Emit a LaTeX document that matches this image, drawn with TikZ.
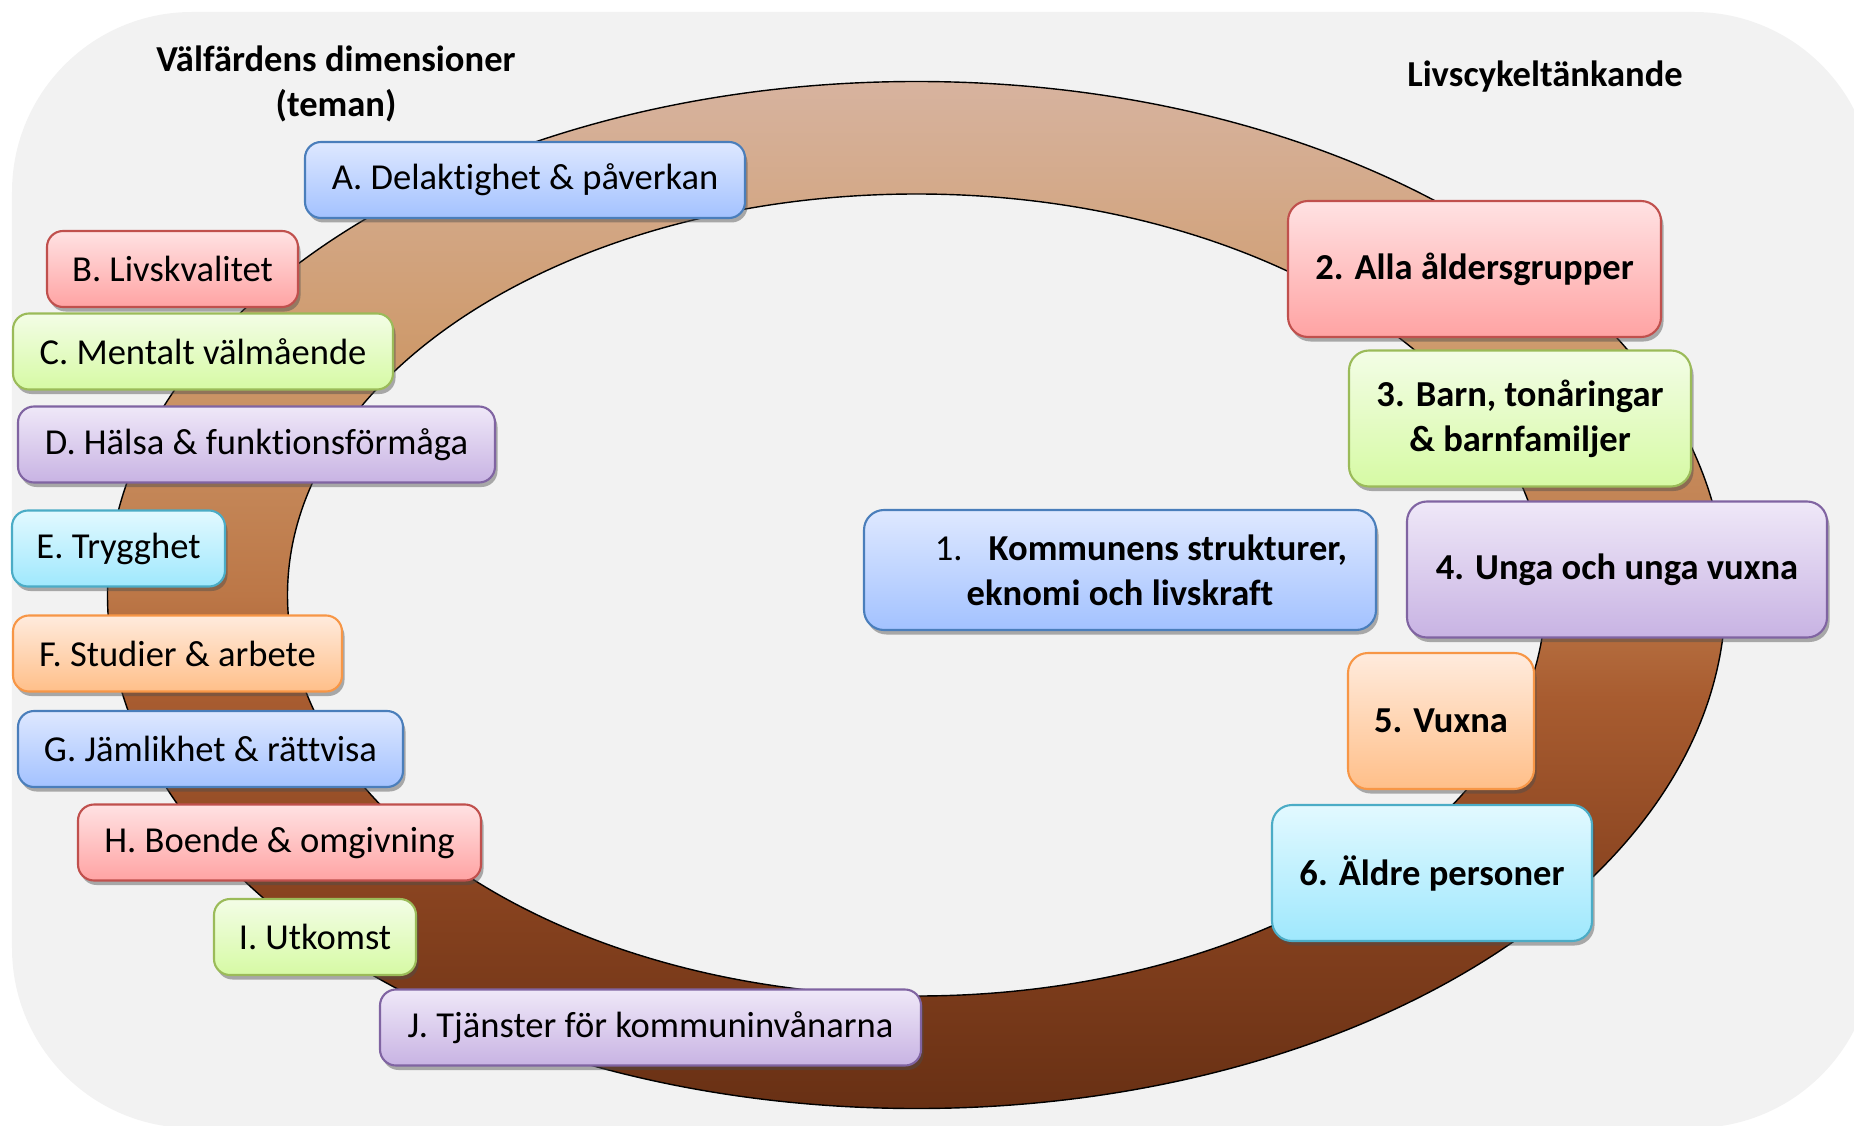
\documentclass[tikz,border=0pt]{standalone}
\usepackage{fontspec}
\setmainfont{Carlito}[Ligatures=NoCommon]
\usepackage{xcolor}
\usepackage{tikz}
\usetikzlibrary{shapes,positioning,shadows}

\definecolor{bggray}{HTML}{F2F2F2}
\definecolor{bluline}{HTML}{4A7EBB}
\definecolor{blutop}{HTML}{DEE8FF}
\definecolor{blubot}{HTML}{A3C2FF}
\definecolor{redline}{HTML}{C0504D}
\definecolor{redtop}{HTML}{FFE2E3}
\definecolor{redbot}{HTML}{FFA3A3}
\definecolor{grnline}{HTML}{9BBB59}
\definecolor{grntop}{HTML}{F3FDE6}
\definecolor{grnbot}{HTML}{D6FAA4}
\definecolor{purline}{HTML}{8064A2}
\definecolor{purtop}{HTML}{EFE8F8}
\definecolor{purbot}{HTML}{C8B3E3}
\definecolor{cyaline}{HTML}{4BACC6}
\definecolor{cyatop}{HTML}{E2F9FF}
\definecolor{cyabot}{HTML}{9FE8FD}
\definecolor{oraline}{HTML}{F79646}
\definecolor{oratop}{HTML}{FFEBDD}
\definecolor{orabot}{HTML}{FFBF89}

% brown ring, light at the top, dark at the bottom
\pgfdeclareverticalshading{ringshade}{100bp}{%
  color(0bp)=(rgb,255:red,104;green,48;blue,20);
  color(25bp)=(rgb,255:red,104;green,48;blue,20);
  color(35bp)=(rgb,255:red,135;green,66;blue,31);
  color(45bp)=(rgb,255:red,168;green,92;blue,48);
  color(50bp)=(rgb,255:red,188;green,119;blue,71);
  color(62bp)=(rgb,255:red,206;green,154;blue,108);
  color(70bp)=(rgb,255:red,212;green,170;blue,139);
  color(75bp)=(rgb,255:red,215;green,179;blue,159);
  color(100bp)=(rgb,255:red,215;green,179;blue,159)}

\begin{document}
\begin{tikzpicture}[
    dim/.style={rectangle, rounded corners=1.6mm, draw, line width=0.6pt, minimum height=0.76cm, inner sep=0pt, align=center, font=\fontsize{10.4}{12.8}\selectfont, drop shadow={shadow xshift=0.25mm, shadow yshift=-0.45mm, opacity=0.45, fill=black!70}},
    age/.style={dim, rounded corners=2mm, minimum height=1.36cm, font=\fontsize{10.4}{12.8}\selectfont\bfseries},
    head/.style={align=center, inner sep=0pt, font=\fontsize{10.4}{12.8}\selectfont\bfseries},
    blu/.style={draw=bluline, top color=blutop, bottom color=blubot},
    red/.style={draw=redline, top color=redtop, bottom color=redbot},
    grn/.style={draw=grnline, top color=grntop, bottom color=grnbot},
    pur/.style={draw=purline, top color=purtop, bottom color=purbot},
    cya/.style={draw=cyaline, top color=cyatop, bottom color=cyabot},
    ora/.style={draw=oraline, top color=oratop, bottom color=orabot}
]
\useasboundingbox (0,0) rectangle (18.54,11.25);

% background panel
\begin{scope}
\clip (0,0) rectangle (18.54,11.25);
\fill[bggray, rounded corners=1.8cm] (0.12,-0.03) rectangle (18.74,11.13);
\end{scope}

% the ring
\coordinate (ctr) at (9.165,5.30);
\shade[even odd rule, shading=ringshade]
    (ctr) ellipse (8.09 and 5.135) (ctr) ellipse (6.29 and 4.01);
\draw[line width=0.4pt] (ctr) ellipse (8.09 and 5.135);
\draw[line width=0.4pt] (ctr) ellipse (6.29 and 4.01);

% headings
\node[head] (dimhead) at (3.36,10.415) {Välfärdens dimensioner\\(teman)};
\node[head] (livhead) at (15.45,10.48) {Livscykeltänkande};

% welfare dimensions
\node[dim, blu, minimum width=4.40cm] (delakt) at (5.25,9.45) {A. Delaktighet \& påverkan};
\node[dim, red, minimum width=2.51cm] (livskv) at (1.725,8.56) {B. Livskvalitet};
\node[dim, grn, minimum width=3.80cm] (mental) at (2.03,7.735) {C. Mentalt välmående};
\node[dim, pur, minimum width=4.77cm] (halsa) at (2.565,6.805) {D. Hälsa \& funktionsförmåga};
\node[dim, cya, minimum width=2.13cm] (trygg) at (1.185,5.765) {E. Trygghet};
\node[dim, ora, minimum width=3.29cm] (studier) at (1.775,4.715) {F. Studier \& arbete};
\node[dim, blu, minimum width=3.85cm] (jamlik) at (2.105,3.76) {G. Jämlikhet \& rättvisa};
\node[dim, red, minimum width=4.03cm] (boende) at (2.795,2.825) {H. Boende \& omgivning};
\node[dim, grn, minimum width=2.02cm] (utkomst) at (3.15,1.88) {I. Utkomst};
\node[dim, pur, minimum width=5.41cm] (tjanst) at (6.505,0.975) {J. Tjänster för kommuninvånarna};

% life cycle groups
\node[age, red, minimum width=3.73cm] (alla) at (14.745,8.56) {2. Alla åldersgrupper};
\node[age, grn, minimum width=3.42cm] (barn) at (15.20,7.065) {3. Barn, tonåringar\\\& barnfamiljer};
\node[age, pur, minimum width=4.20cm] (unga) at (16.17,5.555) {4. Unga och unga vuxna};
\node[age, ora, minimum width=1.86cm] (vuxna) at (14.41,4.04) {5. Vuxna};
\node[age, cya, minimum width=3.20cm] (aldre) at (14.32,2.52) {6. Äldre personer};
\node[dim, blu, rounded corners=2mm, minimum width=5.12cm, minimum height=1.20cm] (kommun) at (11.20,5.55)
    {\hspace*{4.2mm}1.\hspace{2.6mm}\textbf{Kommunens strukturer,}\\\textbf{eknomi och livskraft}};

\end{tikzpicture}
\end{document}
